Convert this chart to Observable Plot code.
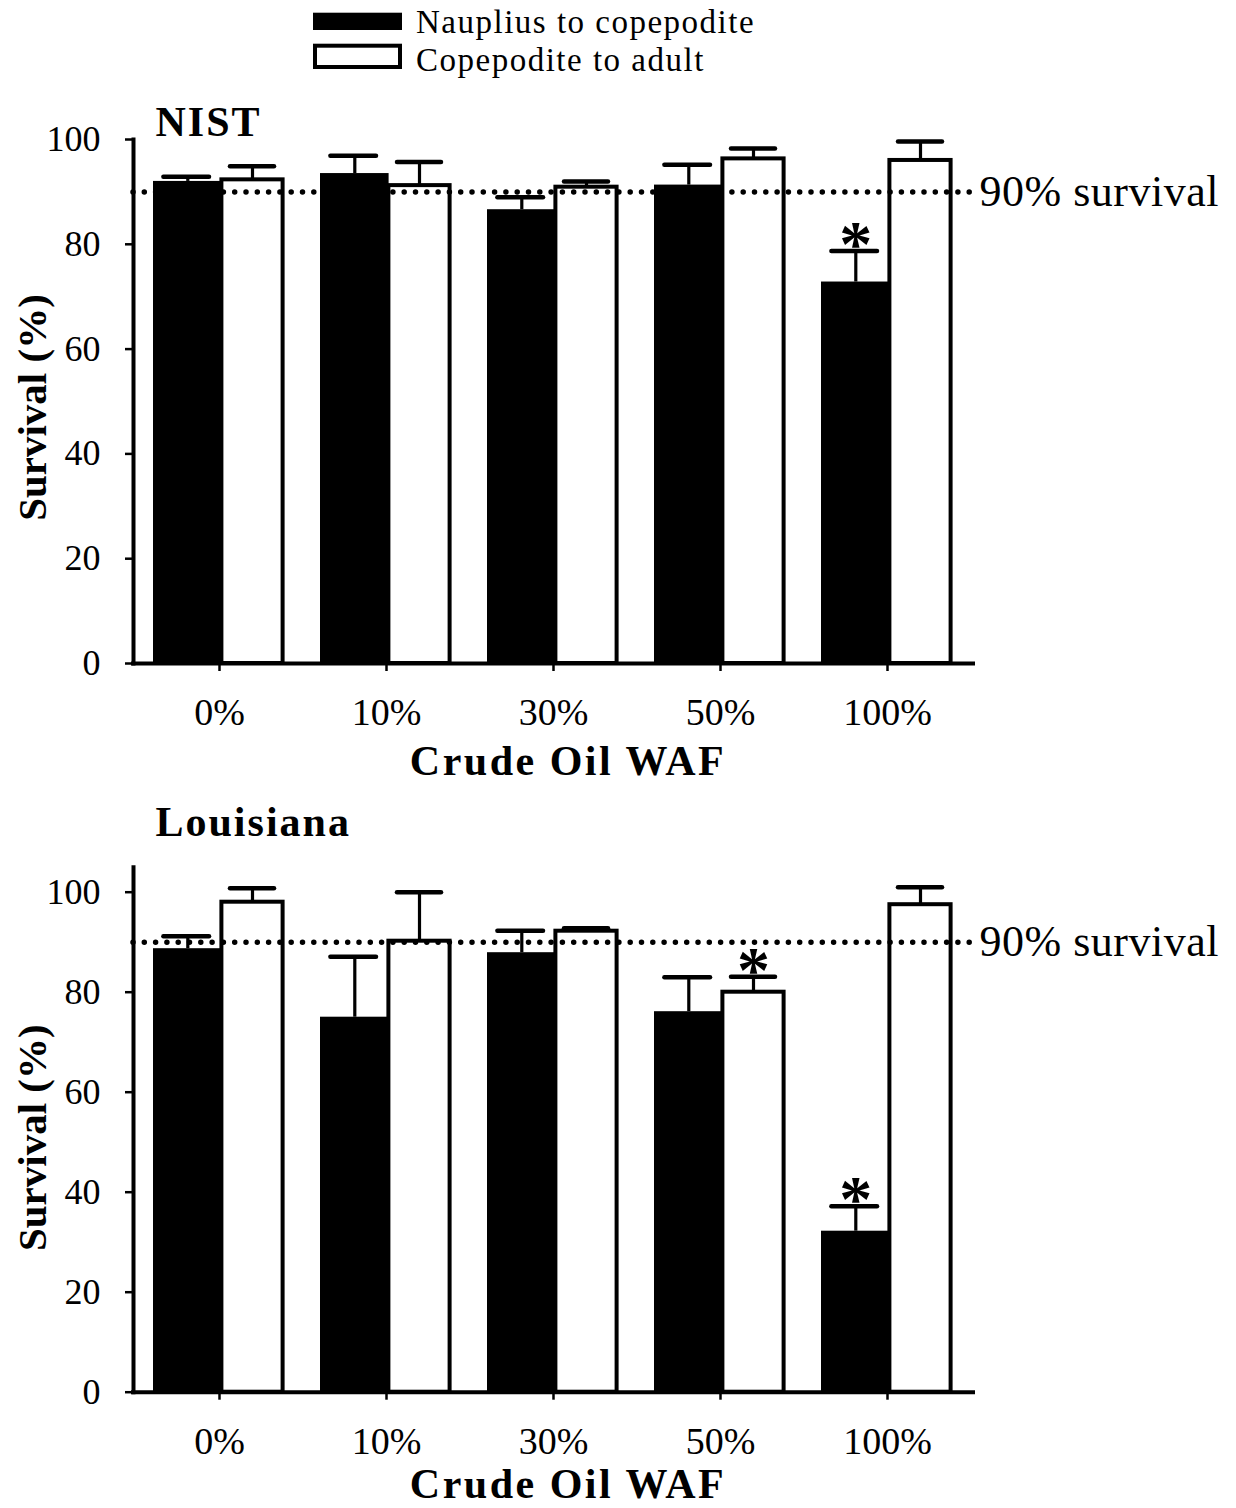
<!DOCTYPE html>
<html><head><meta charset="utf-8">
<script src="https://cdn.jsdelivr.net/npm/d3@7"></script>
<script src="https://cdn.jsdelivr.net/npm/@observablehq/plot@0.6"></script>
<style>
body{margin:0;background:#fff;}
#root{position:relative;width:1236px;height:1508px;background:#fff;overflow:hidden;}
#root > svg{position:absolute;left:0;}
</style></head>
<body><div id="root"></div>
<script>
// ---- data ----
const categories = ["0%", "10%", "30%", "50%", "100%"];
const seriesNames = ["Nauplius to copepodite", "Copepodite to adult"];
const yTicks = [0, 20, 40, 60, 80, 100];
const threshold = 90;
const thresholdLabel = "90% survival";

const nistNauplius    = [92.0, 93.5, 86.6, 91.3, 72.8];
const nistNaupliusErr = [0.9, 3.4, 2.4, 3.9, 5.9];
const nistCopepodite    = [92.3, 91.2, 90.9, 96.3, 96.0];
const nistCopepoditeErr = [2.6, 4.5, 1.1, 2.0, 3.6];
const nistStars = [{cat: "100%", series: 0}];

const laNauplius    = [88.7, 75.0, 87.9, 76.1, 32.2];
const laNaupliusErr = [2.5, 12.1, 4.4, 6.9, 5.0];
const laCopepodite    = [98.0, 90.2, 92.2, 80.0, 97.5];
const laCopepoditeErr = [2.8, 9.8, 0.6, 3.1, 3.5];
const laStars = [{cat: "50%", series: 1}, {cat: "100%", series: 0}];

const FONT = "'Liberation Serif', 'Times New Roman', serif";
const root = document.getElementById("root");

// ---- legend ----
const leg = d3.create("svg").attr("width", 1236).attr("height", 80).style("top", "0px")
  .attr("font-family", FONT);
leg.append("rect").attr("x", 313).attr("y", 12.7).attr("width", 89).attr("height", 17.3).attr("fill", "#000");
leg.append("rect").attr("x", 315).attr("y", 45.7).attr("width", 85).attr("height", 21.3)
  .attr("fill", "#fff").attr("stroke", "#000").attr("stroke-width", 4);
leg.selectAll("text.l").data(seriesNames).join("text")
  .attr("x", 416).attr("y", (d, i) => i === 0 ? 33.3 : 70.7)
  .attr("font-size", 33).attr("letter-spacing", "1.5px").text(d => d);
root.appendChild(leg.node());

// ---- panels ----
function panel({top, height, marginTop, marginBottom, yMax, title, titleDy, yLabelDy, xLabelDy,
                nVals, nErr, cVals, cErr, stars}) {
  const N = categories.map((c, i) => ({cat: c, v: nVals[i], e: nErr[i]}));
  const C = categories.map((c, i) => ({cat: c, v: cVals[i], e: cErr[i]}));
  const starRows = stars.map(s => {
    const src = s.series === 0 ? N : C;
    const r = src.find(d => d.cat === s.cat);
    return {cat: s.cat, top: r.v + r.e, series: s.series};
  });
  const starOpts = {x: "cat", y: "top", text: () => "*", lineAnchor: "bottom", dy: 15, fontSize: 66, fontWeight: "bold"};
  const svg = Plot.plot({
    width: 1236, height,
    marginLeft: 133, marginRight: 264, marginTop, marginBottom,
    style: {fontFamily: FONT, fontSize: "36px", color: "#000", background: "transparent", overflow: "visible"},
    x: {type: "band", domain: categories, paddingInner: 0.21, paddingOuter: 0.105},
    y: {domain: [0, yMax]},
    marks: [
      Plot.barY(N, {x: "cat", y: "v", fill: "#000", insetRight: 63.4}),
      Plot.barY(C, {x: "cat", y: "v", fill: "#fff", stroke: "#000", strokeWidth: 4, insetLeft: 68.4, insetRight: 2.4}),
      Plot.ruleX(N, {x: "cat", y1: "v", y2: d => d.v + d.e, dx: -31.7, strokeWidth: 3.2}),
      Plot.ruleX(C, {x: "cat", y1: "v", y2: d => d.v + d.e, dx: 33, strokeWidth: 3.2}),
      Plot.tickY(N, {x: "cat", y: d => d.v + d.e, insetLeft: 10.4, insetRight: 76, strokeWidth: 4.5, strokeLinecap: "round"}),
      Plot.tickY(C, {x: "cat", y: d => d.v + d.e, insetLeft: 77, insetRight: 11, strokeWidth: 4.5, strokeLinecap: "round"}),
      Plot.ruleY([threshold], {strokeDasharray: "0 11.3", strokeLinecap: "round", strokeWidth: 5.5, insetRight: -4}),
      Plot.text([thresholdLabel], {y: () => threshold, text: d => d, frameAnchor: "right", textAnchor: "start",
        lineAnchor: "middle", dx: 7, fontSize: 44}),
      Plot.text(starRows.filter(d => d.series === 0), {...starOpts, dx: -31.7}),
      Plot.text(starRows.filter(d => d.series === 1), {...starOpts, dx: 33}),
      Plot.frame({anchor: "left", strokeWidth: 4}),
      Plot.ruleY([0], {strokeWidth: 4, insetLeft: -2, insetRight: -3}),
      Plot.axisY({ticks: yTicks, tickSize: 8, tickPadding: 25, fontSize: 36, strokeWidth: 2.5, label: null}),
      Plot.axisX({tickSize: 8, tickPadding: 27, fontSize: 38, strokeWidth: 2.5, label: null}),
      Plot.text([title], {frameAnchor: "top-left", text: d => d, dx: 22, dy: titleDy, lineAnchor: "bottom",
        textAnchor: "start", fontWeight: "bold", fontSize: 42}),
      Plot.text(["Survival (%)"], {frameAnchor: "left", text: d => d, rotate: -90, dx: -88, dy: yLabelDy,
        textAnchor: "middle", lineAnchor: "bottom", fontWeight: "bold", fontSize: 41}),
      Plot.text(["Crude Oil WAF"], {frameAnchor: "bottom", text: d => d, dx: 15, dy: xLabelDy, lineAnchor: "bottom",
        textAnchor: "middle", fontWeight: "bold", fontSize: 42})
    ]
  });
  d3.select(svg).style("top", top + "px");
  d3.select(svg).selectAll("text").each(function () {
    const t = this.textContent;
    if (t === title) this.setAttribute("letter-spacing", "2px");
    else if (t === "Crude Oil WAF") this.setAttribute("letter-spacing", "2.5px");
    else if (t === thresholdLabel) this.setAttribute("letter-spacing", "0.5px");
  });
  root.appendChild(svg);
}

panel({top: 80, height: 710, marginTop: 59, marginBottom: 127, yMax: 100, title: "NIST", titleDy: -4, yLabelDy: 6, xLabelDy: 111,
  nVals: nistNauplius, nErr: nistNaupliusErr, cVals: nistCopepodite, cErr: nistCopepoditeErr, stars: nistStars});
panel({top: 800, height: 708, marginTop: 66.7, marginBottom: 116.3, yMax: 105, title: "Louisiana", titleDy: -31.7, yLabelDy: 8, xLabelDy: 106,
  nVals: laNauplius, nErr: laNaupliusErr, cVals: laCopepodite, cErr: laCopepoditeErr, stars: laStars});
</script>
</body></html>
